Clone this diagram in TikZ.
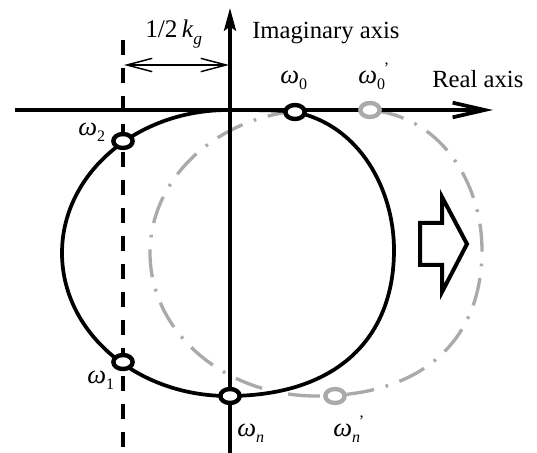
\documentclass[tikz,border=0pt]{standalone}
\usepackage{fontspec}
\setmainfont{Liberation Serif}
\usetikzlibrary{arrows.meta,shapes.geometric}
\definecolor{grayc}{RGB}{170,170,170}
\newcommand\wsym{\fontsize{20}{20}\selectfont\textit{ω}}
\newcommand\lowsub[1]{\raisebox{-5pt}{\fontsize{12}{12}\selectfont #1}}
\newcommand\lowsubp[1]{\rlap{\raisebox{-5pt}{\fontsize{12}{12}\selectfont #1}}\raisebox{7pt}{\fontsize{12}{12}\selectfont\ \,’}}
\newcommand\curvepath{(228,396) arc[start angle=90, end angle=270, x radius=166, y radius=143]
 .. controls (255,110) and (280,110) .. (295,112)
 .. controls (360,125) and (394,190) .. (394,250)
 .. controls (394,340) and (335,396) .. (228,396) -- cycle}
\begin{document}
\begin{tikzpicture}[x=0.75pt,y=-0.75pt,
  blk/.style={line width=2.8pt, black},
  gry/.style={line width=2.5pt, grayc, dash pattern=on 21pt off 9pt on 2pt off 9pt},
  axis/.style={line width=2.8pt, black},
  dashl/.style={line width=3pt, dash pattern=on 11pt off 10pt},
  dim/.style={line width=1.1pt, {Straight Barb[length=19pt,width=10pt]}-{Straight Barb[length=19pt,width=10pt]}},
  bmark/.style={ellipse, draw=black, fill=white, line width=3.3pt, minimum width=14.5pt, minimum height=10.5pt, inner sep=0pt},
  gmark/.style={ellipse, draw=grayc, fill=white, line width=3.3pt, minimum width=14.5pt, minimum height=10.5pt, inner sep=0pt},
  lab/.style={inner sep=0pt, font=\fontsize{18.5}{20}\selectfont},
  wlab/.style={inner sep=0pt, anchor=mid west, font=\fontsize{20}{20}\selectfont}
]
\useasboundingbox (0,0) rectangle (537,453);

% shifted (gray) curve
\begin{scope}[shift={(88,0)}]
\draw[gry] \curvepath;
\end{scope}

% black curve
\draw[blk] \curvepath;

% axes
\coordinate (rs) at (15,110);
\coordinate (re) at (493,110);
\coordinate (is) at (230,453);
\coordinate (ie) at (230,8);
\coordinate (ds) at (123,40);
\coordinate (de) at (123,453);
\coordinate (dimL) at (124,65);
\coordinate (dimR) at (229,65);

\draw[axis, -{Straight Barb[length=24pt,width=11pt]}] (rs) -- (re);
\draw[axis, -{Stealth[length=17pt,width=9pt,inset=3pt]}] (is) -- (ie);
\draw[dashl] (ds) -- (de);
\draw[dim] (dimL) -- (dimR);

% markers
\node[bmark] (w0) at (295,112) {};
\node[bmark] (w2) at (123,141) {};
\node[bmark] (w1) at (123,362) {};
\node[bmark] (wn) at (230,396) {};
\node[gmark] (w0p) at (370,110) {};
\node[gmark] (wnp) at (335,396) {};

% block arrow
\draw[line width=3pt, line join=miter] (420,223) -- (442,223) -- (442,197) -- (467,244) -- (442,292) -- (442,265) -- (420,265) -- cycle;

% labels
\node[lab, anchor=base west] (kg) at (145,38) {\fontsize{19}{20}\selectfont 1/2\,\textit{k}\raisebox{-5pt}{\fontsize{13}{13}\selectfont\textit{g}}};
\node[lab, anchor=base west] (ima) at (252,39) {Imaginary axis};
\node[lab, anchor=base west] (rea) at (432,88) {Real axis};

\node[wlab] (l0) at (280,80) {\wsym\lowsub{0}};
\node[wlab] (l0p) at (358,80) {\wsym\lowsubp{0}};
\node[wlab] (l2) at (78,132) {\wsym\lowsub{2}};
\node[wlab] (l1) at (87,380) {\wsym\lowsub{1}};
\node[wlab] (ln) at (237,433) {\wsym\lowsub{\textit{n}}};
\node[wlab] (lnp) at (333,433) {\wsym\lowsubp{\textit{n}}};
\end{tikzpicture}
\end{document}
